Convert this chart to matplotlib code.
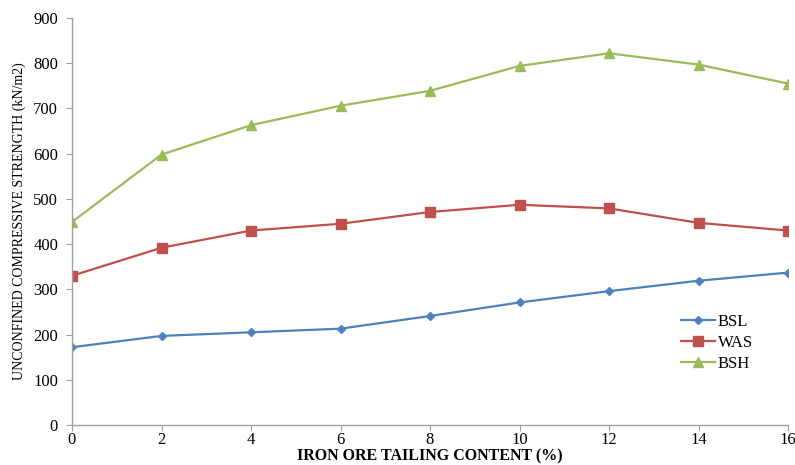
import matplotlib
matplotlib.use("Agg")
import matplotlib.pyplot as plt

# Iron ore tailing content (%) and unconfined compressive strength (kN/m2)
content = [0, 2, 4, 6, 8, 10, 12, 14, 16]
bsl = [172, 197, 205, 213, 241, 271, 296, 319, 337]
was = [330, 392, 430, 445, 471, 487, 479, 447, 430]
bsh = [449, 598, 663, 706, 739, 794, 822, 797, 755]

x_ticks = [0, 2, 4, 6, 8, 10, 12, 14, 16]
y_ticks = [0, 100, 200, 300, 400, 500, 600, 700, 800, 900]

plt.rcParams["font.family"] = ["Liberation Serif", "DejaVu Serif"]

fig = plt.figure(figsize=(7.95, 4.65), dpi=100)
ax = fig.add_axes([72 / 795, 40 / 465, 716 / 795, 407 / 465])

ax.plot(content, bsl, color="#4F81BD", marker="D", markersize=4.5, lw=1.6, label="BSL")
ax.plot(content, was, color="#C0504D", marker="s", markersize=6.5, lw=1.6, label="WAS")
ax.plot(content, bsh, color="#9BBB59", marker="^", markersize=7, lw=1.6, label="BSH")

ax.set_xlim(0, 16)
ax.set_ylim(0, 900)
ax.set_xticks(x_ticks)
ax.set_yticks(y_ticks)
ax.tick_params(axis="both", labelsize=12, color="#A0A0A0", length=4, direction="out")
ax.tick_params(axis="y", pad=6)
ax.tick_params(axis="x", pad=1)

for side in ("top", "right"):
    ax.spines[side].set_visible(False)
for side in ("left", "bottom"):
    ax.spines[side].set_color("#A0A0A0")
    ax.spines[side].set_linewidth(1.0)

ax.set_xlabel("IRON ORE TAILING CONTENT (%)", fontsize=11.5, fontweight="bold", labelpad=0.5)
ax.set_ylabel("UNCONFINED COMPRESSIVE STRENGTH (kN/m2)", fontsize=10, labelpad=5)

ax.legend(loc="upper left", bbox_to_anchor=(0.83, 0.31), frameon=False,
          fontsize=12, handlelength=2.0, handletextpad=0.2, labelspacing=0.3)

fig.savefig("out.png", dpi=100)
